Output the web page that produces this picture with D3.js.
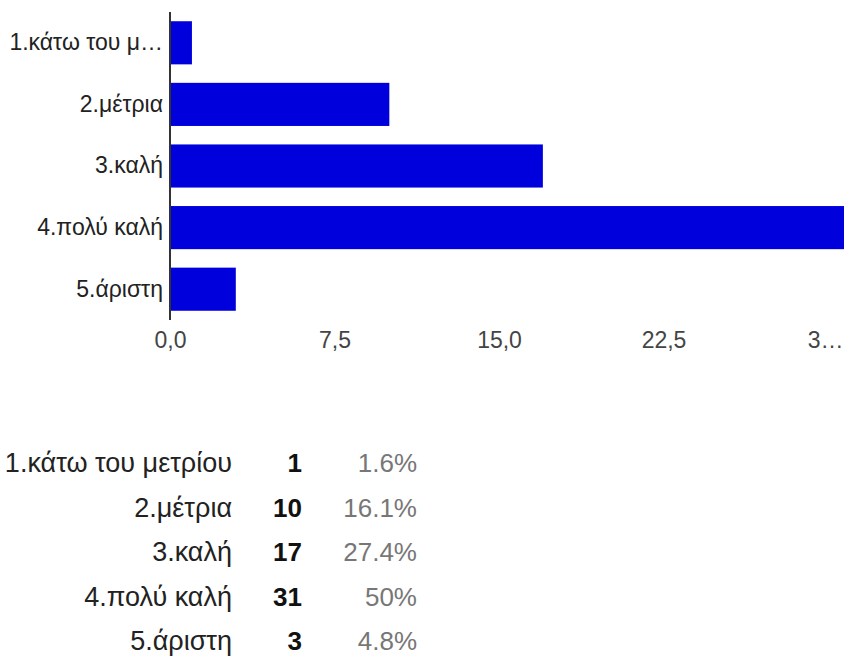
<!DOCTYPE html>
<html>
<head>
<meta charset="utf-8">
<script src="https://cdn.jsdelivr.net/npm/d3@7"></script>
<style>
  html, body { margin: 0; padding: 0; background: #fff; }
  svg { display: block; font-family: "Liberation Sans", Arial, sans-serif; }
</style>
</head>
<body>
<svg id="chart" width="844" height="661"></svg>
<script>
const categories = ["1.κάτω του μετρίου", "2.μέτρια", "3.καλή", "4.πολύ καλή", "5.άριστη"];
const counts = [1, 10, 17, 31, 3];
const percents = ["1.6%", "16.1%", "27.4%", "50%", "4.8%"];
const tickValues = [0, 7.5, 15, 22.5, 30];
const tickLabels = ["0,0", "7,5", "15,0", "22,5", "3…"];

const svg = d3.select("#chart");

const x = d3.scaleLinear().domain([0, 30]).range([170, 828]);
const y = d3.scaleBand().domain(categories).range([12, 320]).paddingInner(0.3).paddingOuter(0.15);

const truncate = s => s.length > 13 ? s.slice(0, 12) + "…" : s;

// bars
svg.append("g").selectAll("rect").data(categories).join("rect")
  .attr("x", x(0) + 1)
  .attr("y", d => y(d))
  .attr("width", (d, i) => x(counts[i]) - x(0) - 1)
  .attr("height", y.bandwidth())
  .attr("fill", "#0000dc");

// category axis
const yAxis = d3.axisLeft(y).tickSize(0).tickPadding(7).tickFormat(truncate);
const gy = svg.append("g").attr("transform", `translate(${x(0)},0)`).call(yAxis);
gy.select(".domain").remove();
gy.selectAll("text").attr("font-size", 23).attr("fill", "#222").attr("font-family", "Liberation Sans, Arial, sans-serif");

svg.append("line")
  .attr("x1", x(0)).attr("x2", x(0))
  .attr("y1", 12).attr("y2", 320)
  .attr("stroke", "#333").attr("stroke-width", 2);

// value axis
const xAxis = d3.axisBottom(x).tickValues(tickValues).tickSize(0).tickPadding(0)
  .tickFormat((d, i) => tickLabels[i]);
const gx = svg.append("g").attr("transform", `translate(0,348)`).call(xAxis);
gx.select(".domain").remove();
gx.selectAll("text").attr("font-size", 23).attr("fill", "#444").attr("y", 0).attr("dy", null)
  .attr("font-family", "Liberation Sans, Arial, sans-serif");
// keep the last (truncated) label inside the frame
gx.selectAll(".tick").filter((d, i, n) => i === n.length - 1).select("text")
  .attr("text-anchor", "end").attr("x", 843 - x(30));

// summary table
const rowY = d3.scalePoint().domain(categories).range([472, 650]);
const table = svg.append("g").attr("font-size", 26);
table.selectAll("text.lab").data(categories).join("text")
  .attr("class", "lab").attr("x", 232).attr("y", d => rowY(d))
  .attr("font-size", 27)
  .attr("text-anchor", "end").attr("fill", "#222").text(d => d);
table.selectAll("text.cnt").data(categories).join("text")
  .attr("class", "cnt").attr("x", 302).attr("y", d => rowY(d))
  .attr("text-anchor", "end").attr("fill", "#111").attr("font-weight", "bold")
  .text((d, i) => counts[i]);
table.selectAll("text.pct").data(categories).join("text")
  .attr("class", "pct").attr("x", 417).attr("y", d => rowY(d))
  .attr("text-anchor", "end").attr("fill", "#777")
  .text((d, i) => percents[i]);
</script>
</body>
</html>
